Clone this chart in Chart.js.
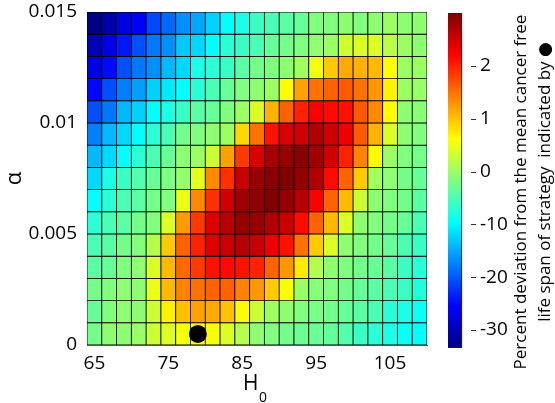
<!DOCTYPE html>
<html>
<head>
<meta charset="utf-8">
<script src="https://cdn.jsdelivr.net/npm/chart.js@4.4.1/dist/chart.umd.min.js"></script>
<style>
  html, body { margin: 0; padding: 0; background: #fff; }
  #wrap { position: relative; width: 555px; height: 403px; }
  #heat { position: absolute; left: 0; top: 0; }
  #cbar { position: absolute; left: 440px; top: 0; }
</style>
</head>
<body>
<div id="wrap">
  <canvas id="heat" width="555" height="403"></canvas>
  <canvas id="cbar" width="115" height="403"></canvas>
</div>
<script>
// ============================================================
// DATA
// ============================================================

const h0 = [65, 67, 69, 71, 73, 75, 77, 79, 81, 83, 85, 87, 89, 91, 93, 95, 97, 99, 101, 103, 105, 107, 109];
const alphaEdges = [0, 0.001, 0.002, 0.003, 0.004, 0.005, 0.006, 0.007, 0.008, 0.009, 0.010, 0.011, 0.012, 0.013, 0.014, 0.015];

// percent deviation, one row per alpha band (bottom row first)
const deviation = [
  [-2.4, -0.8, -0.8, -0.2, 0.3, 0.4, 0.55, 0.62, 0.58, 0.4, 0.15, -0.8, -1.6, -2.4, -3, -3.2, -3.6, -4.5, -6, -7, -8, -9, -9.5],
  [-3.2, -1.6, -0.8, -0.8, 0.3, 0.7, 1.0, 1.2, 1.15, 1.0, 0.64, 0.3, 0, -0.8, -1.6, -2.2, -2.6, -3.2, -4, -5, -7, -8, -9],
  [-2.4, -1.6, -0.8, -0.8, 0.5, 1.05, 1.4, 1.5, 1.6, 1.6, 1.4, 1.27, 0.95, 0.6, 0, -1.2, -1.6, -2.4, -3.2, -4, -5, -6, -7.5],
  [-4, -3.2, -1.6, -0.8, 0.4, 1.05, 1.55, 1.85, 2.1, 2.15, 2.1, 2.0, 1.6, 1.27, 0.75, 0.15, -0.8, -1.6, -2.4, -3.2, -4, -6, -7],
  [-5, -4, -2.4, -1.6, 0.15, 0.95, 1.6, 2.0, 2.4, 2.55, 2.65, 2.55, 2.3, 2.1, 1.5, 0.95, 0.4, -0.8, -1.6, -2.4, -3.2, -5, -6],
  [-7, -5, -4, -2.4, -1.6, 0.4, 1.25, 1.85, 2.4, 2.65, 2.85, 2.85, 2.7, 2.55, 2.15, 1.6, 1.05, 0.4, -0.8, -1.6, -2.4, -3.2, -5],
  [-9.5, -7, -5, -4, -2.4, -1.6, 0.5, 1.35, 1.9, 2.5, 2.8, 2.9, 3.0, 2.87, 2.65, 2.23, 1.6, 1.05, 0.3, -0.8, -1.6, -2.4, -4],
  [-12, -8, -6, -4.5, -3.2, -2, -0.4, 0.45, 1.35, 1.9, 2.55, 2.85, 2.95, 3.0, 2.87, 2.7, 2.15, 1.6, 0.95, 0.05, -0.8, -2.4, -3.2],
  [-14, -12, -9.5, -7, -5, -3.2, -0.8, 0, 0.3, 1.2, 1.85, 2.45, 2.75, 2.85, 2.95, 2.8, 2.5, 2.0, 1.4, 0.64, 0, -1.6, -2.4],
  [-17.5, -14, -12, -9.5, -7, -5, -2.4, -1.6, -0.8, 0, 0.86, 1.5, 2.1, 2.45, 2.5, 2.7, 2.5, 2.3, 1.65, 1.1, 0.4, -0.8, -1.6],
  [-20.5, -18, -14, -12.5, -9.5, -8, -6, -4, -3.2, -1.6, 0, 0.4, 1.1, 1.6, 2.0, 2.23, 2.15, 2.1, 1.65, 1.35, 0.64, -0.8, -1.2],
  [-25, -20.5, -17.5, -15.5, -12.5, -11, -9.5, -7, -5, -3.2, -1.6, -0.8, 0, 0.64, 1.2, 1.5, 1.6, 1.65, 1.5, 1.27, 0.7, 0, -0.3],
  [-27, -25, -20.5, -18, -16.5, -14, -12, -8, -7, -6, -4, -2.4, -1.6, -0.8, 0.05, 0.55, 0.95, 1.15, 1.1, 1.05, 0.6, 0, 0],
  [-30, -27, -24, -20.5, -18, -16.5, -13, -12, -9.5, -7, -6, -5, -3.2, -2.4, -1.6, -0.8, 0, 0.3, 0.4, 0.4, 0.2, 0, -0.8],
  [-33, -31, -27, -25.5, -21, -19, -16.5, -15, -12.5, -9.5, -8, -6, -5, -4, -3.2, -1.6, -1.6, -0.8, -1.6, -0.8, 0, -0.8, -0.8]
];

// strategy marked with the black dot
const strategyH0 = [79];
const strategyAlpha = [0.0005];

const h0Ticks = [65, 75, 85, 95, 105];
const alphaTicks = [0, 0.005, 0.01, 0.015];
const cbTicks = [-30, -20, -10, 0, 1, 2];
const cbRange = [-33.4, 3.0];

const cbLine1 = "Percent deviation from the mean cancer free";
const cbLine2 = "life span of strategy  indicated by \u25CF";

Chart.defaults.font.family = '"Open Sans", sans-serif';
Chart.defaults.font.size = 19;
Chart.defaults.color = "#000";


// ============================================================
// COLOUR SCALE (jet, negative side squeezed 10:1)
// ============================================================

function squash(v) {
  return v < 0 ? v / 10 : v;
}

function jetRGB(t) {
  t = Math.min(1, Math.max(0, t));
  const c = (x) => Math.round(255 * Math.min(1, Math.max(0, x)));
  return "rgb(" + c(1.5 - Math.abs(4 * t - 3)) + "," + c(1.5 - Math.abs(4 * t - 2)) + "," + c(1.5 - Math.abs(4 * t - 1)) + ")";
}

const sLo = squash(cbRange[0]);
const sHi = squash(cbRange[1]);

function jetColor(v) {
  return jetRGB((squash(v) - sLo) / (sHi - sLo));
}

// keep label overflow from pushing the plot area around
function noOverflow(s) {
  s.paddingTop = 0;
  s.paddingBottom = 0;
  s.paddingLeft = 0;
  s.paddingRight = 0;
}


// ============================================================
// HEATMAP
// ============================================================

const cells = [];
const cellColors = [];

deviation.forEach((row, i) => {
  row.forEach((v, j) => {
    cells.push({ x: h0[j], y: [alphaEdges[i], alphaEdges[i + 1]] });
    cellColors.push(jetColor(v));
  });
});

const h0Title = {
  id: "h0Title",
  afterDraw(chart) {
    const { ctx, chartArea } = chart;
    const cx = (chartArea.left + chartArea.right) / 2;
    ctx.save();
    ctx.fillStyle = "#000";
    ctx.textAlign = "left";
    ctx.textBaseline = "alphabetic";
    ctx.font = '21px "Open Sans"';
    ctx.fillText("H", cx - 14, 390);
    ctx.font = '14px "Open Sans"';
    ctx.fillText("0", cx + 2, 402);
    ctx.restore();
  }
};

new Chart(document.getElementById("heat"), {
  type: "bar",
  data: {
    datasets: [
      {
        type: "scatter",
        data: strategyH0.map((x, i) => ({ x: x, y: strategyAlpha[i] })),
        pointRadius: 9,
        pointBackgroundColor: "#000",
        pointBorderWidth: 0,
        order: 0
      },
      {
        data: cells,
        backgroundColor: cellColors,
        borderColor: "#000",
        borderWidth: 0.8,
        borderSkipped: false,
        barPercentage: 1,
        categoryPercentage: 1,
        grouped: false,
        order: 1
      }
    ]
  },
  options: {
    responsive: false,
    animation: false,
    layout: { autoPadding: false, padding: { top: 12, right: 128, left: 0, bottom: 0 } },
    plugins: {
      legend: { display: false },
      tooltip: { enabled: false }
    },
    scales: {
      x: {
        type: "linear",
        min: 64,
        max: 110,
        offset: false,
        grid: { display: false, drawTicks: false },
        border: { display: true, color: "#555", width: 1 },
        ticks: { padding: 7, callback: (v) => String(v) },
        afterBuildTicks: (s) => { s.ticks = h0Ticks.map((v) => ({ value: v })); },
        afterFit: (s) => { s.height = 58; noOverflow(s); }
      },
      y: {
        type: "linear",
        min: 0,
        max: 0.015,
        grid: { display: false, drawTicks: false },
        border: { display: true, color: "#555", width: 1 },
        ticks: { padding: 10, callback: (v) => String(v) },
        title: { display: true, text: "\u03B1", font: { size: 22 }, padding: { top: 2, bottom: 0 } },
        afterBuildTicks: (s) => { s.ticks = alphaTicks.map((v) => ({ value: v })); },
        afterFit: (s) => { s.width = 87; noOverflow(s); }
      }
    }
  },
  plugins: [h0Title]
});


// ============================================================
// COLOURBAR
// ============================================================

const cbLabel = {
  id: "cbLabel",
  afterDraw(chart) {
    const { ctx, chartArea } = chart;
    const yScale = chart.scales.y;

    // small inward tick marks on the right edge of the bar
    ctx.save();
    ctx.strokeStyle = "#333";
    ctx.lineWidth = 1;
    cbTicks.forEach((t) => {
      const py = Math.round(yScale.getPixelForValue(squash(t))) + 0.5;
      ctx.beginPath();
      ctx.moveTo(chartArea.right - 5, py);
      ctx.lineTo(chartArea.right, py);
      ctx.stroke();
    });
    ctx.restore();

    const lines = [[cbLine1, 81, 192], [cbLine2, 105, 182]];
    lines.forEach(([text, x, y]) => {
      ctx.save();
      ctx.fillStyle = "#000";
      ctx.font = '17px "Open Sans", "DejaVu Sans"';
      ctx.textAlign = "center";
      ctx.textBaseline = "middle";
      ctx.translate(x, y);
      ctx.rotate(-Math.PI / 2);
      ctx.fillText(text, 0, 0);
      ctx.restore();
    });
  }
};

new Chart(document.getElementById("cbar"), {
  type: "bar",
  data: {
    labels: ["cb"],
    datasets: [{
      data: [[sLo, sHi]],
      backgroundColor: (c) => {
        const area = c.chart.chartArea;
        if (!area) return null;
        const g = c.chart.ctx.createLinearGradient(0, area.bottom, 0, area.top);
        [0, 0.125, 0.375, 0.625, 0.875, 1].forEach((t) => g.addColorStop(t, jetRGB(t)));
        return g;
      },
      borderColor: "#222",
      borderWidth: 1,
      borderSkipped: false,
      barPercentage: 1,
      categoryPercentage: 1
    }]
  },
  options: {
    responsive: false,
    animation: false,
    layout: { autoPadding: false, padding: { top: 13, left: 8, bottom: 55, right: 0 } },
    plugins: {
      legend: { display: false },
      tooltip: { enabled: false }
    },
    scales: {
      x: { display: false, offset: false },
      y: {
        position: "right",
        min: sLo,
        max: sHi,
        grid: { display: false, drawTicks: false },
        border: { display: false },
        ticks: {
          padding: 4,
          callback: (v) => {
            const hit = cbTicks.find((t) => Math.abs(squash(t) - v) < 1e-9);
            return hit === undefined ? "" : String(hit);
          }
        },
        afterBuildTicks: (s) => { s.ticks = cbTicks.map((t) => ({ value: squash(t) })); },
        afterFit: (s) => { s.width = 79; noOverflow(s); }
      }
    }
  },
  plugins: [cbLabel]
});
</script>
</body>
</html>
